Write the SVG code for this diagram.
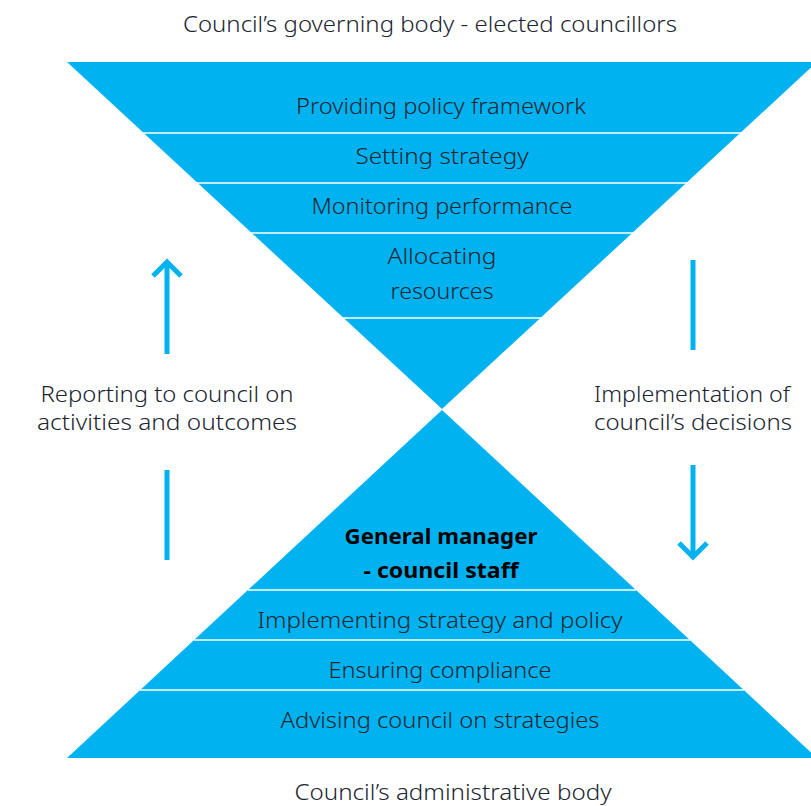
<svg xmlns="http://www.w3.org/2000/svg" width="811" height="806" viewBox="0 0 811 806">
<style>
.tri{fill:#00B3F0}
.sep{stroke:#ffffff;stroke-width:1.6}
.t{font-family:"Noto Sans","Liberation Sans",sans-serif;font-size:22px;font-weight:300;fill:#1a2530;text-anchor:middle}
.b{font-weight:700;fill:#000}
.arr{stroke:#00B3F0;stroke-width:5;fill:none}
</style>
<rect width="811" height="806" fill="#ffffff"/>
<g id="top-triangle">
<polygon class="tri" points="67,62 817,62 442,409"/>
<line class="sep" x1="140" y1="133" x2="744" y2="133"/>
<line class="sep" x1="195" y1="183" x2="689" y2="183"/>
<line class="sep" x1="249" y1="233" x2="635" y2="233"/>
<line class="sep" x1="341" y1="318" x2="543" y2="318"/>
<text class="t" x="441" y="114" textLength="290" lengthAdjust="spacingAndGlyphs">Providing policy framework</text>
<text class="t" x="442" y="164" textLength="173" lengthAdjust="spacingAndGlyphs">Setting strategy</text>
<text class="t" x="442" y="214" textLength="261" lengthAdjust="spacingAndGlyphs">Monitoring performance</text>
<text class="t" x="442" y="264" textLength="109" lengthAdjust="spacingAndGlyphs">Allocating</text>
<text class="t" x="442" y="299" textLength="103" lengthAdjust="spacingAndGlyphs">resources</text>
</g>
<g id="bottom-triangle">
<polygon class="tri" points="442,410 817,758 67,758"/>
<line class="sep" x1="248" y1="590" x2="636" y2="590"/>
<line class="sep" x1="194" y1="640" x2="690" y2="640"/>
<line class="sep" x1="140" y1="690" x2="744" y2="690"/>
<text class="t b" x="441" y="544" textLength="193" lengthAdjust="spacingAndGlyphs">General manager</text>
<text class="t b" x="441" y="578" textLength="155" lengthAdjust="spacingAndGlyphs">- council staff</text>
<text class="t" x="440" y="628" textLength="365" lengthAdjust="spacingAndGlyphs">Implementing strategy and policy</text>
<text class="t" x="440" y="678" textLength="223" lengthAdjust="spacingAndGlyphs">Ensuring compliance</text>
<text class="t" x="440" y="728" textLength="319" lengthAdjust="spacingAndGlyphs">Advising council on strategies</text>
</g>
<g id="titles">
<text class="t" x="430" y="32" textLength="494" lengthAdjust="spacingAndGlyphs">Council’s governing body - elected councillors</text>
<text class="t" x="453" y="800" textLength="317" lengthAdjust="spacingAndGlyphs">Council’s administrative body</text>
</g>
<g id="left-label">
<text class="t" x="167" y="402" textLength="253" lengthAdjust="spacingAndGlyphs">Reporting to council on</text>
<text class="t" x="167" y="430" textLength="260" lengthAdjust="spacingAndGlyphs">activities and outcomes</text>
</g>
<g id="right-label">
<text class="t" x="692" y="402" textLength="196" lengthAdjust="spacingAndGlyphs">Implementation of</text>
<text class="t" x="693" y="430" textLength="198" lengthAdjust="spacingAndGlyphs">council’s decisions</text>
</g>
<g id="connectors">
<line class="arr" x1="167" y1="354" x2="167" y2="263"/>
<polyline class="arr" points="153,276 167,262 181,276"/>
<line class="arr" x1="167" y1="470" x2="167" y2="560"/>
<line class="arr" x1="693" y1="260" x2="693" y2="350"/>
<line class="arr" x1="693" y1="465" x2="693" y2="556"/>
<polyline class="arr" points="679,543 693,557 707,543"/>
</g>
</svg>
